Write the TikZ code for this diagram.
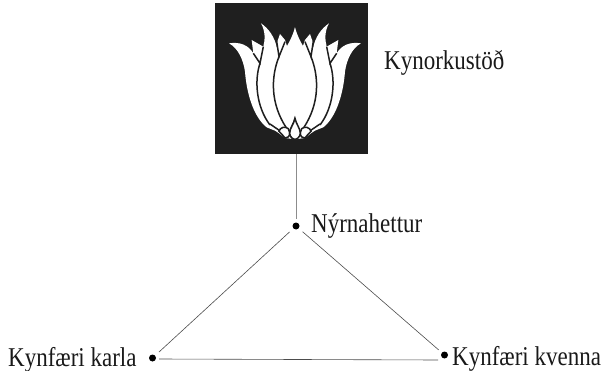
\documentclass[tikz,border=0pt]{standalone}
\usepackage{fontspec}
\setmainfont{Liberation Serif}
\usetikzlibrary{positioning}
\usetikzlibrary{calc}

\begin{document}
\begin{tikzpicture}[x=1pt, y=-1pt,
    SQR/.style={rectangle, fill=black!88, inner sep=0pt, minimum width=153pt, minimum height=151pt},
    DOT/.style={circle, fill=black, inner sep=0pt, minimum width=6pt, minimum height=7pt},
    LBL/.style={anchor=base west, inner sep=0pt, font=\fontsize{23}{25}\selectfont, yscale=1.18, transform shape, text=black!90},
    LNK/.style={draw=black!70, line width=0.6pt},
    VEIN/.style={draw=black!88, line width=1.5pt}]

    \useasboundingbox (0,0) rectangle (601,371);

    \node[SQR] (lotus) at (291.5,78.5) {};
    \node[DOT] (adrenal) at (296,226) {};
    \node[DOT] (male) at (152.5,358) {};
    \node[DOT] (female) at (444.5,355) {};
    \coordinate (basemale) at (159,359);
    \coordinate (basefemale) at (438,360);

    \node[LBL] (source) at (384,70) {Kynorkustöð};
    \node[LBL] (adrenaltext) at (311,232) {Nýrnahettur};
    \node[LBL] (maletext) at (8,366) {Kynfæri karla};
    \node[LBL] (femaletext) at (452,365) {Kynfæri kvenna};

    \draw[LNK, black!45] (adrenal |- lotus.south) -- ($(adrenal)+(0,-7)$);
    \draw[LNK, shorten <=5pt, shorten >=5pt] (adrenal) -- (male);
    \draw[LNK, shorten <=5pt, shorten >=4pt] (adrenal) -- (female);
    \draw[LNK] (basemale) -- (basefemale);

    % flower, in pixels of a 3x crop
    \begin{scope}[shift={(205,0)}, x=0.3333pt, y=-0.3333pt]
        \foreach \side in {1,-1} {
            \begin{scope}[shift={(270,0)}, xscale=\side]
                % white outline of one half
                \fill[white] (0,82) .. controls (-8,110) and (-15,122) .. (-24,138)
                    -- (-30,120) -- (-45,102) -- (-52,122) -- (-53,150)
                    .. controls (-60,110) and (-80,85) .. (-102,70)
                    .. controls (-88,95) and (-90,120) .. (-95,140)
                    -- (-130,120) -- (-125,160)
                    .. controls (-140,135) and (-165,125) .. (-198,130)
                    .. controls (-170,145) and (-155,180) .. (-150,215)
                    .. controls (-145,280) and (-125,350) .. (-85,382)
                    -- (-60,392) -- (-48,400) -- (-30,414) -- (0,418) -- cycle;
                % lines between the petals
                \draw[VEIN] (-125,160) -- (-105,190) -- (-95,140);
                \draw[VEIN] (-105,190) .. controls (-122,240) and (-117,320) .. (-75,375);
                \draw[VEIN] (-30,125) -- (-48,170) -- (-54,130);
                \draw[VEIN] (-48,170) .. controls (-72,230) and (-75,310) .. (-25,385);
                \draw[VEIN] (-75,372) -- (-46,392);
                % bottom lobes
                \filldraw[VEIN, fill=white] (-20,386) .. controls (-30,378) and (-45,382) .. (-48,394)
                    .. controls (-40,398) and (-38,408) .. (-30,414)
                    .. controls (-22,416) and (-15,408) .. (-16,398) -- cycle;
                \filldraw[VEIN, fill=white] (0,355) .. controls (3,372) and (16,385) .. (16,400)
                    .. controls (15,412) and (5,418) .. (0,418)
                    .. controls (-5,418) and (-15,412) .. (-16,400)
                    .. controls (-16,385) and (-3,372) .. cycle;
            \end{scope}
        }
    \end{scope}
\end{tikzpicture}
\end{document}
